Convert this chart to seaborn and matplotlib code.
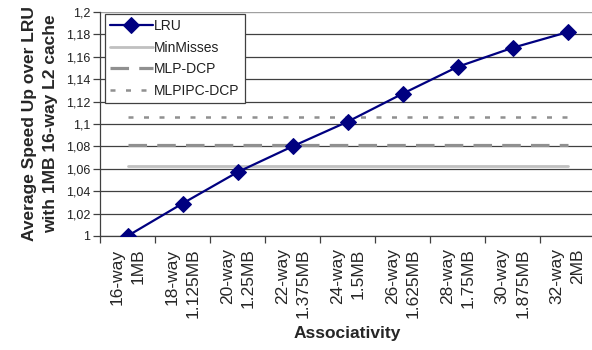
import matplotlib
matplotlib.use("Agg")
import matplotlib.pyplot as plt
import seaborn as sns
import pandas as pd
from matplotlib import font_manager as fm
from matplotlib.ticker import FixedLocator, FuncFormatter

categories = ["16-way\n1MB", "18-way\n1.125MB", "20-way\n1.25MB", "22-way\n1.375MB",
              "24-way\n1.5MB", "26-way\n1.625MB", "28-way\n1.75MB", "30-way\n1.875MB",
              "32-way\n2MB"]
lru = [1.000, 1.029, 1.057, 1.080, 1.102, 1.127, 1.151, 1.168, 1.182]
minmisses = 1.0625
mlp_dcp = 1.081
mlpipc_dcp = 1.106
y_ticks = [1.0, 1.02, 1.04, 1.06, 1.08, 1.10, 1.12, 1.14, 1.16, 1.18, 1.20]

sns.set_style("white")
names = {f.name for f in fm.fontManager.ttflist}
narrow = "Liberation Sans Narrow" if "Liberation Sans Narrow" in names else "Liberation Sans"
plt.rcParams["font.family"] = ["Liberation Sans", "DejaVu Sans"]

n = len(categories)
df = pd.DataFrame({"x": list(range(n)) * 4,
                   "y": lru + [minmisses] * n + [mlp_dcp] * n + [mlpipc_dcp] * n,
                   "series": ["LRU"] * n + ["MinMisses"] * n + ["MLP-DCP"] * n + ["MLPIPC-DCP"] * n})

fig = plt.figure(figsize=(5.92, 3.5), dpi=100)
ax = fig.add_axes([100 / 592, 1 - 236 / 350, 495 / 592, 224 / 350])

for yv in y_ticks[:-1]:
    ax.axhline(yv, color="#404040", lw=0.9, zorder=0)
ax.axhline(1.2, color="#a0a0a0", lw=1.0, zorder=0)

palette = {"LRU": "#000080", "MinMisses": "#c0c0c0", "MLP-DCP": "#909090", "MLPIPC-DCP": "#909090"}
sns.lineplot(data=df[df.series == "MinMisses"], x="x", y="y", ax=ax, color=palette["MinMisses"],
             lw=2.0, label="MinMisses", zorder=2)
sns.lineplot(data=df[df.series == "MLP-DCP"], x="x", y="y", ax=ax, color=palette["MLP-DCP"],
             lw=2.3, label="MLP-DCP", dashes=False, zorder=2, linestyle=(0, (5.8, 3.2)))
sns.lineplot(data=df[df.series == "MLPIPC-DCP"], x="x", y="y", ax=ax, color=palette["MLPIPC-DCP"],
             lw=1.8, label="MLPIPC-DCP", zorder=2, linestyle=(0, (2.0, 4.2)))
sns.lineplot(data=df[df.series == "LRU"], x="x", y="y", ax=ax, color=palette["LRU"],
             lw=1.6, marker="D", markersize=8.5, markeredgecolor="#000080", label="LRU", zorder=3)

ax.set_xlim(-0.5, n - 0.5)
ax.set_ylim(1.0, 1.2)
ax.yaxis.set_major_locator(FixedLocator(y_ticks))
ax.yaxis.set_major_formatter(FuncFormatter(lambda v, p: ("%.2f" % v).rstrip("0").rstrip(".").replace(".", ",")))
for lab in ax.get_yticklabels():
    lab.set_fontfamily(narrow)
ax.tick_params(axis="y", direction="out", length=5, width=0.9, color="#404040", labelsize=9,
               labelcolor="#202020", left=True, pad=2)

ax.set_xticks([i - 0.5 for i in range(n + 1)])
ax.set_xticklabels([])
ax.set_xticks(list(range(n)), minor=True)
ax.set_xticklabels(categories, minor=True, rotation=90, fontsize=12.5, va="top", ha="center",
                   multialignment="right", linespacing=1.45)
ax.tick_params(axis="x", which="major", direction="out", length=5, width=0.9, color="#404040", bottom=True)
ax.tick_params(axis="x", which="minor", length=0, pad=9)

for s in ["top", "right"]:
    ax.spines[s].set_visible(False)
for s in ["left", "bottom"]:
    ax.spines[s].set_color("#404040")
    ax.spines[s].set_linewidth(0.9)

ax.set_xlabel("Associativity", fontsize=12.5, fontweight="bold", labelpad=6)
ax.set_ylabel("Average Speed Up over LRU\nwith 1MB 16-way L2 cache", fontsize=12.5,
              fontweight="bold", linespacing=1.45, labelpad=6)

handles, labels = ax.get_legend_handles_labels()
order = [labels.index(k) for k in ["LRU", "MinMisses", "MLP-DCP", "MLPIPC-DCP"]]
leg = ax.legend([handles[i] for i in order], [labels[i] for i in order],
                loc="upper left", bbox_to_anchor=(105 / 592, 1 - 14 / 350),
                bbox_transform=fig.transFigure, fontsize=10, frameon=True, fancybox=False,
                framealpha=1, edgecolor="#404040", handlelength=3.1, handletextpad=0.1,
                borderpad=0.35, labelspacing=0.55, borderaxespad=0)
leg.get_frame().set_linewidth(0.9)
for t in leg.get_texts():
    t.set_fontfamily(narrow)
    t.set_color("#202020")

fig.savefig("out.png", dpi=100)
